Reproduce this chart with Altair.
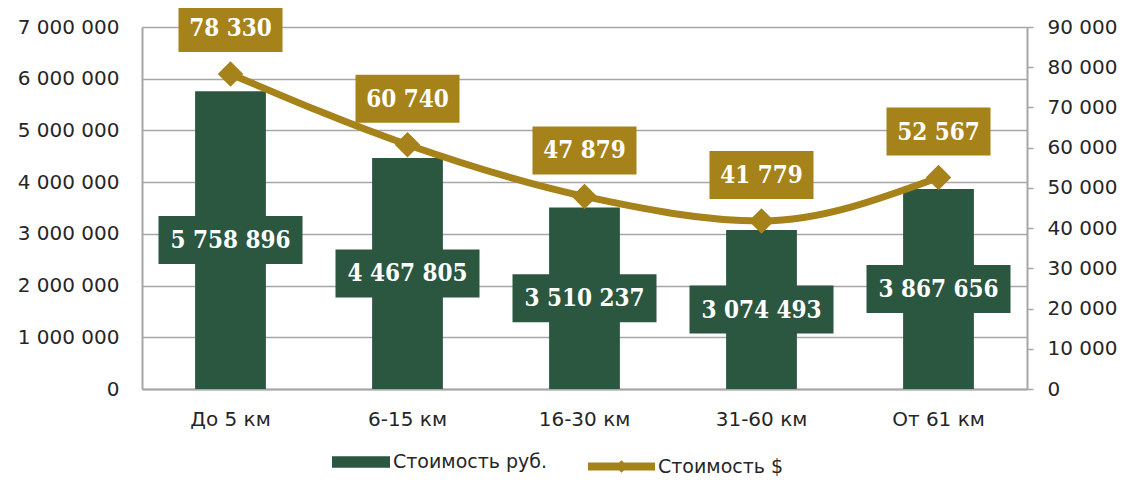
import altair as alt
import pandas as pd

categories = ["До 5 км", "6-15 км", "16-30 км", "31-60 км", "От 61 км"]
rub_values = [5758896, 4467805, 3510237, 3074493, 3867656]
usd_values = [78330, 60740, 47879, 41779, 52567]
left_ticks = [0, 1000000, 2000000, 3000000, 4000000, 5000000, 6000000, 7000000]
right_ticks = [0, 10000, 20000, 30000, 40000, 50000, 60000, 70000, 80000, 90000]
series_names = ["Стоимость руб.", "Стоимость $"]

GREEN = "#2B5741"
GOLD = "#A6821A"
GRID = "#A6A6A6"
TXT = "#262626"
AXFONT = "DejaVu Sans"
LBLFONT = "DejaVu Serif Condensed, DejaVu Serif"

df = pd.DataFrame({
    "cat": categories,
    "rub": rub_values,
    "usd": usd_values,
    "s_rub": [series_names[0]] * len(categories),
    "s_usd": [series_names[1]] * len(categories),
})

space_fmt = "replace(replace(format({v}, ','), ',', ' '), ',', ' ')"

base = alt.Chart(df)
x = alt.X("cat:N", sort=categories, title=None,
          scale=alt.Scale(paddingInner=0.6, paddingOuter=0.3),
          axis=alt.Axis(labelAngle=0, ticks=False, labelFont=AXFONT, labelFontSize=20,
                        labelColor=TXT, labelPadding=20, domainColor=GRID, domainWidth=2))

y_left_scale = alt.Scale(domain=[0, 7000000], nice=False)
y_right_scale = alt.Scale(domain=[0, 90000], nice=False)

bars = base.mark_bar(color=GREEN).encode(
    x=x,
    y=alt.Y("rub:Q", scale=y_left_scale, title=None,
            axis=alt.Axis(orient="left", values=left_ticks, ticks=False, labelFont=AXFONT,
                          labelFontSize=20, labelColor=TXT, labelPadding=23,
                          labelExpr=space_fmt.format(v="datum.value"),
                          grid=True, gridColor=GRID, gridWidth=1.5,
                          domainColor=GRID, domainWidth=2)),
    color=alt.Color("s_rub:N", scale=alt.Scale(domain=[series_names[0]], range=[GREEN]),
                    legend=alt.Legend(orient="none", legendX=190, legendY=406, title=None,
                                      symbolType="M-1,-0.2H1V0.2H-1Z", symbolSize=3364,
                                      symbolStrokeWidth=0, symbolOpacity=1,
                                      labelFont=AXFONT, labelFontSize=19, labelColor=TXT,
                                      labelOffset=3, padding=0)),
)

bar_box = base.transform_calculate(mid="datum.rub / 2").mark_point(
    shape="M-1,-0.3333H1V0.3333H-1Z", size=20736, filled=True, opacity=1,
    color=GREEN, strokeWidth=0
).encode(x=x, y=alt.Y("mid:Q", scale=y_left_scale))

bar_text = base.transform_calculate(
    mid="datum.rub / 2", lbl=space_fmt.format(v="datum.rub")
).mark_text(font=LBLFONT, fontWeight="bold", fontSize=24, color="white",
            baseline="middle", align="center", dy=1).encode(
    x=x, y=alt.Y("mid:Q", scale=y_left_scale), text="lbl:N")

left = alt.layer(bars, bar_box, bar_text)

line = base.mark_line(color=GOLD, strokeWidth=7, interpolate="monotone").encode(
    x=x,
    y=alt.Y("usd:Q", scale=y_right_scale, title=None,
            axis=alt.Axis(orient="right", values=right_ticks, grid=False, ticks=True,
                          tickSize=6, tickColor=GRID, tickWidth=1.5,
                          labelFont=AXFONT, labelFontSize=20, labelColor=TXT, labelPadding=14,
                          labelExpr=space_fmt.format(v="datum.value"),
                          domainColor=GRID, domainWidth=2)),
    color=alt.Color("s_usd:N", scale=alt.Scale(domain=[series_names[1]], range=[GOLD]),
                    legend=alt.Legend(orient="none", legendX=446, legendY=406, title=None,
                                      symbolType="M-1,-0.12H1V0.12H-1Z M0,-0.19L0.19,0L0,0.19L-0.19,0Z",
                                      symbolSize=4489, symbolStrokeWidth=0, symbolOpacity=1,
                                      symbolFillColor=GOLD,
                                      labelFont=AXFONT, labelFontSize=19, labelColor=TXT,
                                      labelOffset=3, padding=0)),
)

points = base.mark_point(shape="diamond", size=650, filled=True, opacity=1,
                         color=GOLD, strokeWidth=0).encode(
    x=x, y=alt.Y("usd:Q", scale=y_right_scale))

usd_box = base.mark_point(shape="M-1,-0.4615H1V0.4615H-1Z", size=10816, filled=True,
                          opacity=1, color=GOLD, strokeWidth=0, yOffset=-46).encode(
    x=x, y=alt.Y("usd:Q", scale=y_right_scale))

usd_text = base.transform_calculate(lbl=space_fmt.format(v="datum.usd")).mark_text(
    font=LBLFONT, fontWeight="bold", fontSize=24, color="white",
    baseline="middle", align="center", yOffset=-45).encode(
    x=x, y=alt.Y("usd:Q", scale=y_right_scale), text="lbl:N")

right = alt.layer(line, points, usd_box, usd_text)

chart = alt.layer(left, right).resolve_scale(y="independent", color="independent").properties(
    width=885, height=362,
    autosize=alt.AutoSizeParams(type="none"),
    padding={"left": 134, "top": 19, "right": 94, "bottom": 87},
).configure_view(stroke=None).configure(background="white")

chart.save("out.html", embed_options={"renderer": "svg", "actions": False})
